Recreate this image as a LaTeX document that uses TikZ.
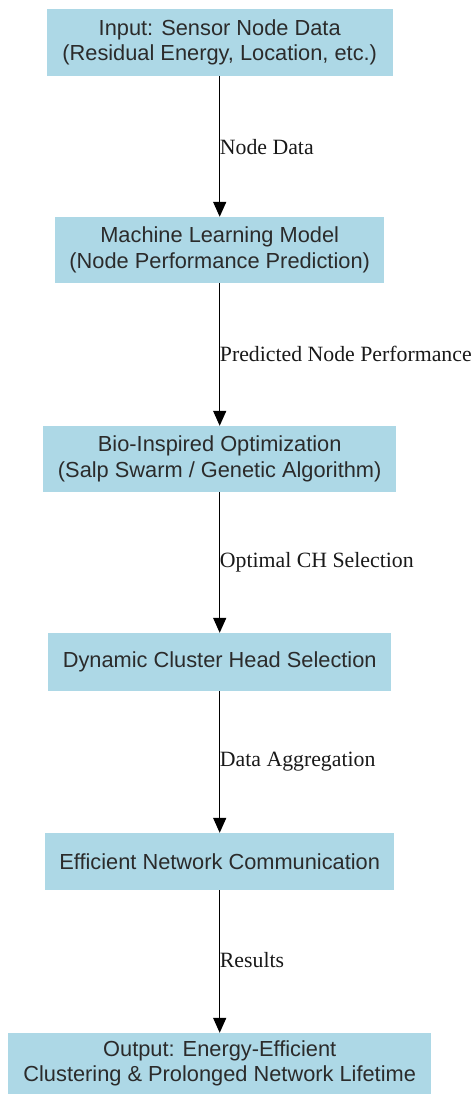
\documentclass[tikz,border=0pt]{standalone}
\usepackage{fontspec}
\setmainfont{Liberation Sans}
\newfontfamily\labelfont{Liberation Serif}
\usetikzlibrary{arrows.meta}
\definecolor{boxfill}{HTML}{ADD8E6}
\definecolor{boxtext}{HTML}{2B2B2B}
\tikzset{
  stage/.style={fill=boxfill, draw=none, align=center, text=boxtext,
    font=\fontsize{21.8}{25.5}\selectfont, inner sep=0pt},
  flow/.style={line width=1.5pt, -{Triangle[length=15pt,width=13pt]}},
  flowlabel/.style={anchor=west, inner sep=0pt, text=black!90,
    font=\labelfont\fontsize{21.8}{25}\selectfont}
}
\begin{document}
\begin{tikzpicture}[x=1pt,y=-1pt]
\useasboundingbox (0,0) rectangle (473,1094);

\node[stage, minimum width=346pt, minimum height=67pt] (b1) at (219.7,42.5)
  {Input: Sensor Node Data\\(Residual Energy, Location, etc.)};
\node[stage, minimum width=329pt, minimum height=66pt] (b2) at (219.7,250)
  {Machine Learning Model\\(Node Performance Prediction)};
\node[stage, minimum width=353pt, minimum height=66pt] (b3) at (219.7,459)
  {Bio-Inspired Optimization\\(Salp Swarm / Genetic Algorithm)};
\node[stage, minimum width=343pt, minimum height=58pt] (b4) at (219.7,662)
  {Dynamic Cluster Head Selection};
\node[stage, minimum width=349pt, minimum height=57pt] (b5) at (219.7,861.5)
  {Efficient Network Communication};
\node[stage, minimum width=423pt, minimum height=61pt] (b6) at (219.7,1063.5)
  {Output: Energy-Efficient\\Clustering \& Prolonged Network Lifetime};

\draw[flow] (b1.south) -- (b2.north);
\draw[flow] (b2.south) -- (b3.north);
\draw[flow] (b3.south) -- (b4.north);
\draw[flow] (b4.south) -- (b5.north);
\draw[flow] (b5.south) -- (b6.north);

\node[flowlabel] (l1) at (219.7,147) {Node Data};
\node[flowlabel] (l2) at (219.7,354) {Predicted Node Performance};
\node[flowlabel] (l3) at (219.7,562) {Optimal CH Selection};
\node[flowlabel] (l4) at (219.7,762) {Data Aggregation};
\node[flowlabel] (l5) at (219.7,960) {Results};
\end{tikzpicture}
\end{document}
